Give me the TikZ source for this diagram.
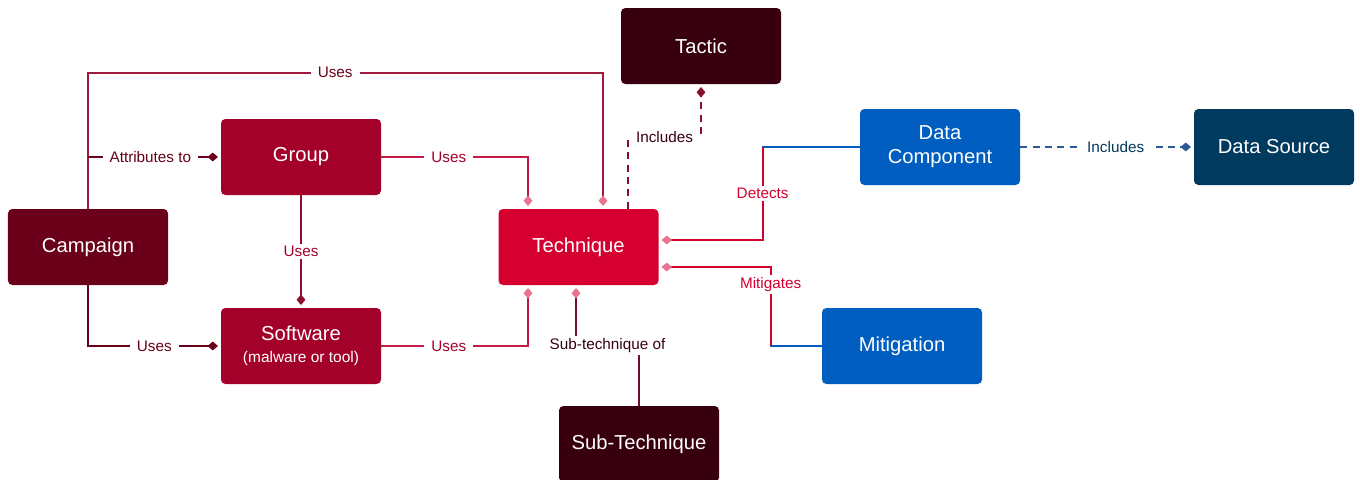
\documentclass[tikz,border=0pt]{standalone}
\usepackage{fontspec}
\setmainfont{Liberation Sans}
\usetikzlibrary{arrows.meta, positioning}
\definecolor{campaignred}{HTML}{6A0019}
\definecolor{groupred}{HTML}{A3002A}
\definecolor{techred}{HTML}{D5002F}
\definecolor{tacticdark}{HTML}{38000F}
\definecolor{datablue}{HTML}{005EC0}
\definecolor{sourcenavy}{HTML}{003A5E}
\definecolor{tippink}{HTML}{E7738F}
\definecolor{usesline}{HTML}{A01A3C}
\definecolor{linkred}{HTML}{C51A45}
\definecolor{groupdark}{HTML}{8E0E2E}
\definecolor{subdark}{HTML}{6E0F25}
\definecolor{includesred}{HTML}{8A0F2C}
\definecolor{includesblue}{HTML}{2A5A95}
\tikzstyle{entity} = [rectangle, rounded corners=2.5pt, text=white, align=center, minimum height=1.52cm, minimum width=3.2cm, font=\fontsize{11.5}{13.5}\selectfont]
\tikzstyle{rel} = [line width=1.1pt, -{Diamond[width=5pt,length=6pt]}, shorten >=1.5pt]
\tikzstyle{tolink} = [rel, -{Diamond[width=5pt,length=6pt,color=tippink]}]
\tikzstyle{incl} = [rel, dash pattern=on 4pt off 3pt]
\tikzstyle{lbl} = [fill=white, inner xsep=4pt, inner ysep=1.5pt, font=\fontsize{8.7}{10}\selectfont]

\begin{document}
\begin{tikzpicture}[node distance=4cm]
    \useasboundingbox (0,0) rectangle (27.2,-9.58);

    % Threat actors
    \node (campaign) [entity, fill=campaignred] at (1.76,-4.94) {Campaign};
    \node (group) [entity, fill=groupred, right of=campaign, xshift=0.26cm, yshift=1.8cm] {Group};
    \node (software) [entity, fill=groupred, below of=group, yshift=0.22cm] {Software\\[-1pt]{\fontsize{8.8}{10}\selectfont (malware or tool)}};

    % Techniques
    \node (technique) [entity, fill=techred, right of=group, xshift=1.55cm, yshift=-1.8cm] {Technique};
    \node (tactic) [entity, fill=tacticdark, above of=technique, xshift=2.45cm, yshift=0.02cm] {Tactic};
    \node (subtech) [entity, fill=tacticdark, below of=technique, xshift=1.21cm, yshift=0.06cm] {Sub-Technique};

    % Defence
    \node (datacomp) [entity, fill=datablue, right of=technique, xshift=3.23cm, yshift=2cm] {Data\\Component};
    \node (mitigation) [entity, fill=datablue, right of=technique, xshift=2.47cm, yshift=-1.98cm] {Mitigation};
    \node (datasource) [entity, fill=sourcenavy, right of=datacomp, xshift=2.68cm] {Data Source};

    % ==== Arrows
    % Campaign
    \draw [tolink, color=usesline] (campaign.north) -- ++(0,2.72) -| node[lbl, pos=0.24, text=campaignred] {Uses} ([xshift=0.49cm]technique.north);
    \draw [rel, color=campaignred] (campaign.north |- group.west) -- node[lbl, pos=0.47, text=campaignred] {Attributes to} (group.west);
    \draw [rel, color=campaignred] (campaign.south) |- node[lbl, pos=0.75, text=campaignred] {Uses} (software.west);

    % Group and software
    \draw [tolink, color=linkred] (group.east) -| node[lbl, pos=0.23, text=groupred] {Uses} ([xshift=-1.01cm]technique.north);
    \draw [rel, color=groupdark] (group.south) -- node[lbl, text=groupred] {Uses} (software.north);
    \draw [tolink, color=linkred] (software.east) -| node[lbl, pos=0.23, text=groupred] {Uses} ([xshift=-1.01cm]technique.south);

    % Tactic and sub-technique
    \draw [incl, color=includesred] ([xshift=0.99cm]technique.north) -- ++(0,1.44) -| node[lbl, pos=0.25, text=tacticdark] {Includes} (tactic.south);
    \draw [tolink, color=subdark] (subtech.north) -- ++(0,1.2) -| node[lbl, pos=0.25, text=tacticdark] {Sub-technique of} ([xshift=-0.05cm]technique.south);

    % Detection and mitigation
    \coordinate (detectbend) at ([xshift=-1.94cm]datacomp.west);
    \coordinate (mitigatebend) at ([xshift=-1.02cm]mitigation.west);
    \draw [line width=1.1pt, line cap=rect, color=datablue] (datacomp.west) -- (detectbend);
    \draw [tolink, color=techred] (detectbend) |- node[lbl, pos=0.25, text=techred] {Detects} ([yshift=0.14cm]technique.east);
    \draw [line width=1.1pt, line cap=rect, color=datablue] (mitigation.west) -- (mitigatebend);
    \draw [tolink, color=techred] (mitigatebend) |- node[lbl, pos=0.39, text=techred] {Mitigates} ([yshift=-0.4cm]technique.east);
    \draw [incl, color=includesblue] (datacomp.east) -- node[lbl, pos=0.55, text=sourcenavy] {Includes} (datasource.west);

\end{tikzpicture}
\end{document}
